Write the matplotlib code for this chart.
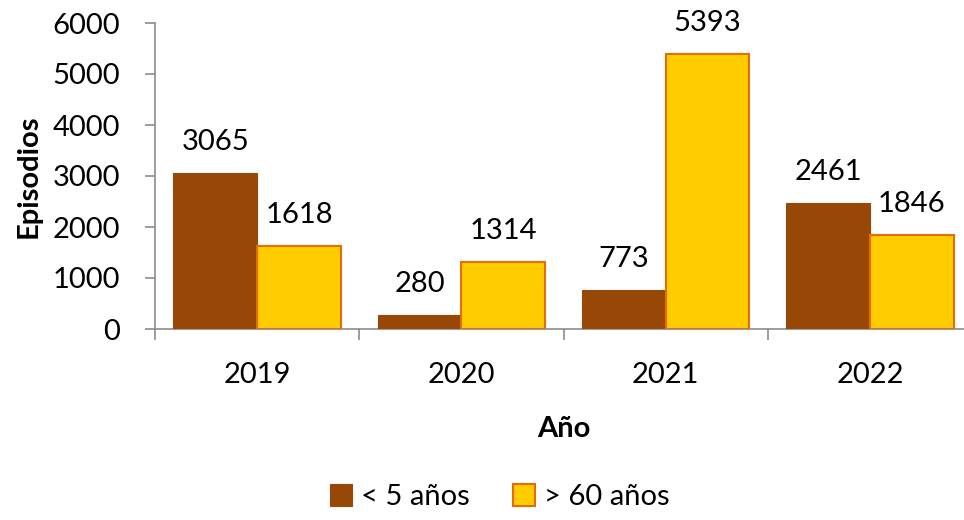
import matplotlib
matplotlib.use("Agg")
import matplotlib.pyplot as plt
import numpy as np

years = ["2019", "2020", "2021", "2022"]
under_5 = [3065, 280, 773, 2461]
over_60 = [1618, 1314, 5393, 1846]
series_labels = ["< 5 años", "> 60 años"]
y_ticks = [0, 1000, 2000, 3000, 4000, 5000, 6000]

plt.rcParams["font.family"] = ["Lato", "DejaVu Sans"]

BROWN = "#974706"
YELLOW = "#FFCC00"
YELLOW_EDGE = "#E46C0A"
AXIS_GREY = "#8C8C8C"
FS = 21

fig = plt.figure(figsize=(9.64, 5.20), dpi=100)
ax = fig.add_axes([155 / 964, 191 / 520, 817 / 964, 306 / 520])

x = np.arange(len(years))
width = 0.41
bars_a = ax.bar(x - width / 2, under_5, width, color=BROWN, edgecolor=BROWN,
                linewidth=0.8, label=series_labels[0], zorder=3)
bars_b = ax.bar(x + width / 2, over_60, width, color=YELLOW, edgecolor=YELLOW_EDGE,
                linewidth=1.5, label=series_labels[1], zorder=3)

for bars in (bars_a, bars_b):
    for bar in bars:
        ax.annotate(f"{int(bar.get_height())}",
                    (bar.get_x() + bar.get_width() / 2, bar.get_height()),
                    xytext=(0, 13), textcoords="offset points",
                    ha="center", va="bottom", fontsize=FS)

ax.set_xlim(-0.5, len(years) - 0.5)
ax.set_ylim(0, 6000)
ax.set_yticks(y_ticks)
ax.set_yticklabels([str(v) for v in y_ticks], fontsize=FS)
ax.set_xticks(x)
ax.set_xticklabels(years, fontsize=FS)
ax.set_xticks(np.arange(len(years) + 1) - 0.5, minor=True)
ax.tick_params(axis="x", which="major", length=0, pad=24)
ax.tick_params(axis="x", which="minor", length=8, color=AXIS_GREY, width=1.2)
ax.tick_params(axis="y", length=7, color=AXIS_GREY, width=1.2, pad=18)

for side in ("top", "right"):
    ax.spines[side].set_visible(False)
for side in ("left", "bottom"):
    ax.spines[side].set_color(AXIS_GREY)
    ax.spines[side].set_linewidth(1.2)

ax.set_xlabel("Año", fontsize=FS, fontweight="bold", labelpad=20)
ax.set_ylabel("Episodios", fontsize=FS, fontweight="bold", labelpad=8)

fig.legend(handles=[bars_a, bars_b], labels=series_labels, loc="center",
           bbox_to_anchor=(500 / 964, 1 - 497 / 520), ncol=2, frameon=False,
           fontsize=FS, handlelength=0.75, handleheight=0.75, handletextpad=0.3,
           columnspacing=1.5)

fig.savefig("out.png", dpi=100)
